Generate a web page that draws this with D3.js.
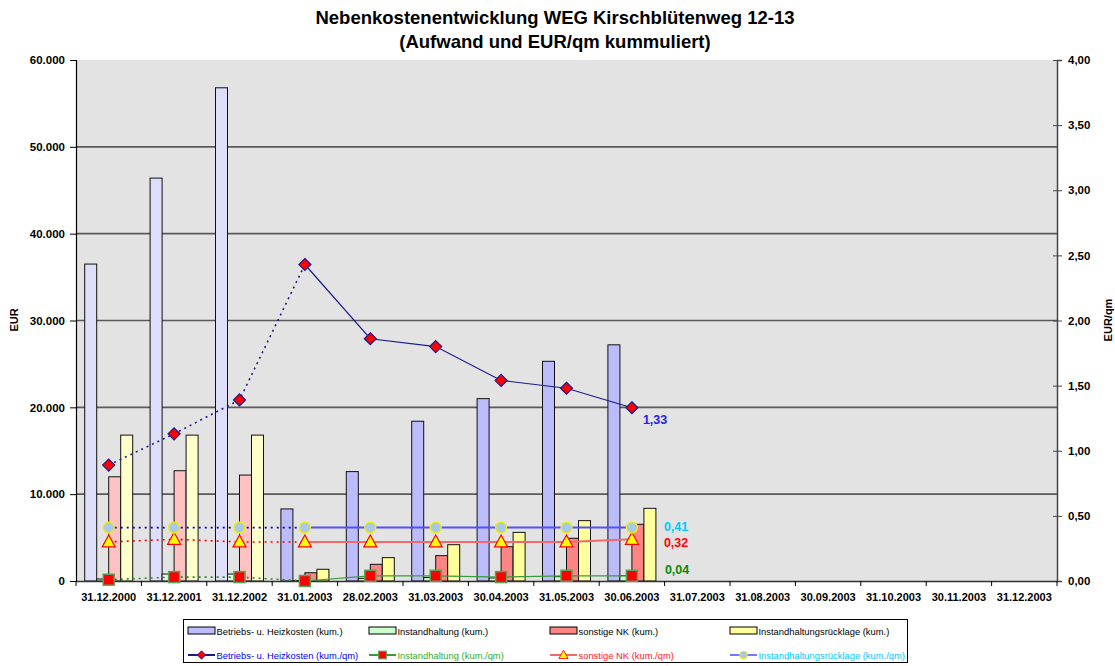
<!DOCTYPE html>
<html>
<head>
<meta charset="utf-8">
<script src="https://cdnjs.cloudflare.com/ajax/libs/d3/7.8.5/d3.min.js"></script>
<style>
	body{margin:0;background:#fff;}
	svg{font-family:Arial,"Liberation Sans",sans-serif;display:block;}
</style>
</head>
<body>
<div id="chart"></div>
<script>
// categories (x axis)
var categories = ["31.12.2000","31.12.2001","31.12.2002","31.01.2003","28.02.2003","31.03.2003","30.04.2003","31.05.2003","30.06.2003","31.07.2003","31.08.2003","30.09.2003","31.10.2003","30.11.2003","31.12.2003"]

// EUR, cumulated (bars)
var betriebs       = [36500,46400,56800,8300,12600,18400,21000,25300,27200]
var instandhaltung = [230,800,800,50,300,400,350,500,620]
var sonstige       = [12000,12700,12200,950,1920,2920,3950,4920,6530]
var ruecklage      = [16800,16800,16800,1350,2690,4180,5600,6950,8370]

// EUR/qm, cumulated (lines)
var betriebsQm       = [0.89,1.13,1.39,2.43,1.86,1.80,1.54,1.48,1.33]
var instandhaltungQm = [0.01,0.03,0.03,0.00,0.04,0.04,0.03,0.04,0.04]
var sonstigeQm       = [0.30,0.32,0.30,0.30,0.30,0.30,0.30,0.30,0.32]
var ruecklageQm      = [0.41,0.41,0.41,0.41,0.41,0.41,0.41,0.41,0.41]

var leftTicks  = [0,10000,20000,30000,40000,50000,60000]
var rightTicks = [0,0.5,1,1.5,2,2.5,3,3.5,4]

// first points are year totals, drawn paler / dotted
var yearly = 3

var W = 1115, H = 666
var plot = {left:76, right:1057, top:60, bottom:581}
var font = 'Arial,"Liberation Sans",sans-serif'

var barSeries = [
	{key:"b", name:"Betriebs- u. Heizkosten (kum.)", values:betriebs, fill:"#bcbcfa", pale:"#dedefa"},
	{key:"i", name:"Instandhaltung (kum.)", values:instandhaltung, fill:"#ccffcc", pale:"#e0ffe0"},
	{key:"s", name:"sonstige NK (kum.)", values:sonstige, fill:"#ff8585", pale:"#ffc2c2"},
	{key:"r", name:"Instandhaltungsrücklage (kum.)", values:ruecklage, fill:"#ffff9c", pale:"#ffffcc"}
]
var lineSeries = [
	{name:"Betriebs- u. Heizkosten (kum./qm)", values:betriebsQm, line:"#1a1a8c", dot:"#1a1a8c", text:"#0000ff", marker:"diamond", label:{dx:11,dy:13,color:"#2323e6"}},
	{name:"Instandhaltung (kum./qm)", values:instandhaltungQm, line:"#3c9a3c", dot:"#2a8a2a", text:"#33aa33", marker:"square", label:{dx:33,dy:-5,color:"#078a07"}},
	{name:"sonstige NK (kum./qm)", values:sonstigeQm, line:"#f06a6a", dot:"#ff0000", text:"#ff2020", marker:"triangle", label:{dx:32,dy:4,color:"#ff0000"}},
	{name:"Instandhaltungsrücklage (kum./qm)", values:ruecklageQm, line:"#5050ff", dot:"#0000cc", text:"#00c8ff", marker:"circle", label:{dx:32,dy:0,color:"#00c8ff"}}
]

var svg = d3.select("#chart").append("svg").attr("width",W).attr("height",H)

var x = d3.scaleBand().domain(categories).range([plot.left,plot.right]).paddingInner(0).paddingOuter(0)
var xInner = d3.scaleBand().domain(barSeries.map(function(s){return s.key})).range([0,x.bandwidth()]).paddingInner(0).paddingOuter(0.725)
var y = d3.scaleLinear().domain([0,60000]).range([plot.bottom,plot.top])
var y2 = d3.scaleLinear().domain([0,4]).range([plot.bottom,plot.top])

// title
svg.append("text").attr("x",555).attr("y",24).attr("text-anchor","middle")
	.attr("font-size",18.5).attr("font-weight","bold").text("Nebenkostenentwicklung WEG Kirschblütenweg 12-13")
svg.append("text").attr("x",555).attr("y",48).attr("text-anchor","middle")
	.attr("font-size",18.5).attr("font-weight","bold").text("(Aufwand und EUR/qm kummuliert)")

// plot background
svg.append("rect").attr("x",plot.left).attr("y",plot.top).attr("width",plot.right-plot.left).attr("height",plot.bottom-plot.top).attr("fill","#e3e3e3")

// gridlines
svg.append("g").selectAll("line").data(leftTicks.filter(function(t){return t>0 && t<60000})).enter()
	.append("line").attr("x1",plot.left).attr("x2",plot.right)
	.attr("y1",function(d){return y(d)}).attr("y2",function(d){return y(d)})
	.attr("stroke","#5a5a5a").attr("stroke-width",1.6)

// left axis
var leftAxis = d3.axisLeft(y).tickValues(leftTicks).tickSize(6).tickPadding(5)
	.tickFormat(function(d){return d3.format(",")(d).replace(/,/g,".")})
var gl = svg.append("g").attr("transform","translate("+plot.left+",0)").call(leftAxis)
gl.select(".domain").attr("stroke","#000").attr("stroke-width",1.2)
gl.selectAll(".tick line").attr("stroke","#000")
gl.selectAll("text").attr("font-size",11.5).attr("font-weight","bold").attr("font-family",font).attr("fill","#000")

// right axis
var rightAxis = d3.axisRight(y2).tickValues(rightTicks).tickSize(5).tickPadding(6)
	.tickFormat(function(d){return d3.format(".2f")(d).replace(".",",")})
var gr = svg.append("g").attr("transform","translate("+plot.right+",0)").call(rightAxis)
gr.select(".domain").attr("stroke","#444").attr("stroke-width",1.5)
gr.selectAll(".tick line").attr("stroke","#444").attr("x1",-4)
gr.selectAll("text").attr("font-size",11.5).attr("font-weight","bold").attr("font-family",font).attr("fill","#000")

// axis titles
svg.append("text").attr("transform","translate(18,320) rotate(-90)").attr("text-anchor","middle")
	.attr("font-size",11).attr("font-weight","bold").text("EUR")
svg.append("text").attr("transform","translate(1112,320) rotate(-90)").attr("text-anchor","middle")
	.attr("font-size",11).attr("font-weight","bold").text("EUR/qm")

// bars
barSeries.forEach(function(s){
	svg.append("g").selectAll("rect").data(s.values).enter().append("rect")
		.attr("x",function(d,i){return x(categories[i])+xInner(s.key)})
		.attr("width",xInner.bandwidth())
		.attr("y",function(d){return y(d)})
		.attr("height",function(d){return plot.bottom-y(d)})
		.attr("fill",function(d,i){return i<yearly?s.pale:s.fill})
		.attr("stroke","#111").attr("stroke-width",1)
})

// bottom axis
var bottomAxis = d3.axisBottom(x).tickSize(0).tickPadding(12)
var gb = svg.append("g").attr("transform","translate(0,"+plot.bottom+")").call(bottomAxis)
gb.select(".domain").attr("stroke","#333").attr("stroke-width",1.5)
gb.selectAll("text").attr("font-size",11).attr("font-weight","bold").attr("font-family",font).attr("fill","#000")
gb.selectAll(".sep").data(d3.range(categories.length+1)).enter().append("line")
	.attr("x1",function(i){return plot.left+i*x.step()}).attr("x2",function(i){return plot.left+i*x.step()})
	.attr("y1",0).attr("y2",5).attr("stroke","#000")

// markers
function marker(g,type,cx,cy){
	if(type=="diamond"){
		g.append("path").attr("d","M"+cx+","+(cy-6)+"L"+(cx+6)+","+cy+"L"+cx+","+(cy+6)+"L"+(cx-6)+","+cy+"Z")
			.attr("fill","#ff0000").attr("stroke","#1a1a8c").attr("stroke-width",1.2)
	} else if(type=="square"){
		g.append("rect").attr("x",cx-5.5).attr("y",cy-5.5).attr("width",11).attr("height",11)
			.attr("fill","#ff0000").attr("stroke","#5aa05a").attr("stroke-width",1.5)
	} else if(type=="triangle"){
		g.append("path").attr("d","M"+cx+","+(cy-7)+"L"+(cx+6.5)+","+(cy+5)+"L"+(cx-6.5)+","+(cy+5)+"Z")
			.attr("fill","#ffff00").attr("stroke","#ff0000").attr("stroke-width",1.2)
	} else {
		g.append("circle").attr("cx",cx).attr("cy",cy).attr("r",5.5)
			.attr("fill","#a8c8ec").attr("stroke","#f0f000").attr("stroke-width",1.3)
	}
}

// lines
var cx = function(i){return x(categories[i])+x.bandwidth()/2}
lineSeries.forEach(function(s){
	var g = svg.append("g")
	var pts = s.values.map(function(v,i){return [cx(i),y2(v)]})
	var line = d3.line()
	g.append("path").attr("d",line(pts.slice(0,yearly+1))).attr("fill","none")
		.attr("stroke",s.dot).attr("stroke-width",1.6).attr("stroke-dasharray","2,4")
	g.append("path").attr("d",line(pts.slice(yearly))).attr("fill","none")
		.attr("stroke",s.line).attr("stroke-width",s.marker=="diamond"||s.marker=="square"?1.2:2)
})
lineSeries.forEach(function(s){
	var g = svg.append("g")
	s.values.forEach(function(v,i){marker(g,s.marker,cx(i),y2(v))})
	var last = s.values.length-1
	svg.append("text").attr("x",cx(last)+s.label.dx).attr("y",y2(s.values[last])+s.label.dy)
		.attr("dominant-baseline","middle").attr("font-size",12.5).attr("font-weight","bold")
		.attr("fill",s.label.color).text(d3.format(".2f")(s.values[last]).replace(".",","))
})

// legend
var legend = svg.append("g")
legend.append("rect").attr("x",183.5).attr("y",619.5).attr("width",724).attr("height",43)
	.attr("fill","#fff").attr("stroke","#000")
var cols = [188,369,550,730]
barSeries.forEach(function(s,i){
	legend.append("rect").attr("x",cols[i]).attr("y",627).attr("width",27).attr("height",7)
		.attr("fill",s.fill).attr("stroke","#000")
	legend.append("text").attr("x",cols[i]+28.5).attr("y",634.5).attr("font-size",9.4).text(s.name)
})
lineSeries.forEach(function(s,i){
	legend.append("line").attr("x1",cols[i]).attr("x2",cols[i]+27).attr("y1",655).attr("y2",655)
		.attr("stroke",i==3?"#7878ff":s.line).attr("stroke-width",2)
	var g = legend.append("g").attr("transform","translate("+(cols[i]+13.5)+",655) scale(0.7) translate("+(-(cols[i]+13.5))+",-655)")
	marker(g,s.marker,cols[i]+13.5,655)
	legend.append("text").attr("x",cols[i]+28.5).attr("y",658.5).attr("font-size",9.4)
		.attr("fill",s.text).text(s.name)
})
</script>
</body>
</html>
